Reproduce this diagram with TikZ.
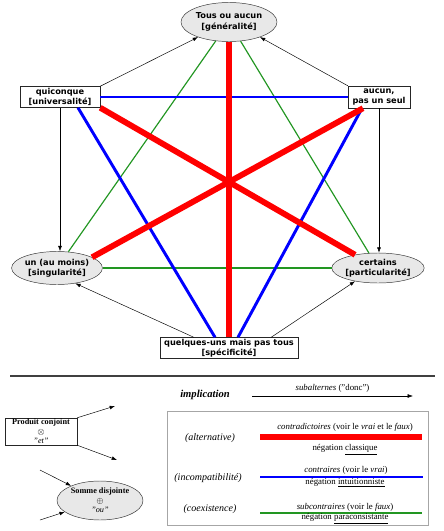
\documentclass[tikz,border=0pt]{standalone}
\usepackage{fontspec}
\setmainfont{Liberation Serif}
\setsansfont{DejaVu Sans}
\usepackage{tikz}
\usetikzlibrary{
	shapes.geometric,
	arrows.meta,
	positioning,
	calc
}
\definecolor{vertsub}{RGB}{34,150,34}
\newlength{\px}
\setlength{\px}{0.85pt}

\begin{document}
\begin{tikzpicture}[
				x=0.85pt, y=-0.85pt,
				carre/.style={
					rectangle, draw=black!85, fill=white, inner sep=0pt,
					align=center, font=\sffamily\bfseries\fontsize{7}{8.8}\selectfont
				},
				ovale/.style={
					ellipse, draw=black!80, fill=gray!18, inner sep=0pt,
					align=center, font=\sffamily\bfseries\fontsize{7}{8.8}\selectfont
				},
				legbox/.style={
					carre, font=\fontsize{7}{8.2}\selectfont
				},
				legoval/.style={
					ovale, font=\fontsize{7}{8.2}\selectfont
				},
				legtext/.style={inner sep=0pt, font=\fontsize{7.5}{9}\selectfont},
				legside/.style={inner sep=0pt, font=\itshape\fontsize{8.5}{10}\selectfont},
				arrow/.style={-{Latex[length=4.5pt,width=3.2pt]}, line width=0.4pt, black},
				contradict/.style={line width=5pt, red},
				contraire/.style={line width=2.5pt, blue},
				subcontr/.style={line width=1pt, vertsub}
				]
				\useasboundingbox (0,0) rectangle (443,531);
				
				% Tous ou aucun
				\node[ovale, minimum width=96\px, minimum height=39\px] (tous) at (229,22) {Tous ou aucun\\{[}généralité{]}};
				
				% quiconque
				\node[carre, minimum width=80\px, minimum height=21\px] (quiconque) at (60,97) {quiconque\\{[}universalité{]}};
				
				% aucun
				\node[carre, minimum width=62\px, minimum height=22\px] (aucun) at (379,97) {aucun,\\pas un seul};
				
				% un (au moins)
				\node[ovale, minimum width=87\px, minimum height=33\px] (unmoins) at (57,268) {un (au moins)\\{[}singularité{]}};
				
				% certains
				\node[ovale, minimum width=83\px, minimum height=30\px] (certains) at (378,268) {certains\\{[}particularité{]}};
				
				% quelques-uns
				\node[carre, minimum width=138\px, minimum height=21\px] (quelques) at (229,348) {quelques-uns mais pas tous\\{[}spécificité{]}};
				
				% subcontraires
				\draw[subcontr] (tous) -- (unmoins);
				\draw[subcontr] (tous) -- (certains);
				\draw[subcontr] (unmoins) -- (certains);
				
				% contraires
				\draw[contraire] (quiconque) -- (aucun);
				\draw[contraire] ($(quiconque.south)+(18,0)$) -- ($(quelques.north)+(-14,0)$);
				\draw[contraire] ($(aucun.south)+(-17,0)$) -- ($(quelques.north)+(9,0)$);
				
				% contradictoires
				\draw[contradict] (tous) -- (quelques);
				\draw[contradict] (quiconque.south east) -- (certains);
				\draw[contradict] ($(aucun.south)+(-16,0)$) -- (unmoins.17);
				
				% subalternes
				\draw[arrow] (quiconque.north east) -- (tous.206);
				\draw[arrow] (aucun.north west) -- (tous.-26);
				\draw[arrow] (quiconque.south) -- (quiconque.south |- unmoins.north);
				\draw[arrow] (aucun.south) -- (aucun.south |- certains.north);
				\draw[arrow] ($(quelques.north west)+(34,0)$) -- (unmoins.-40);
				\draw[arrow] ($(quelques.north east)+(-27,0)$) -- (certains.210);
				
				% separation
				\coordinate (sepA) at (10,376);
				\coordinate (sepB) at (435,376);
				\draw[line width=1.3pt, black!75] (sepA) -- (sepB);
				
				% implication
				\node[inner sep=0pt, font=\bfseries\itshape\fontsize{9}{10}\selectfont] (implic) at (205,395) {implication};
				\coordinate (implA) at (252,396);
				\coordinate (implB) at (413,396);
				\draw[arrow] (implA) -- node[legtext, above=3pt] {\textit{subalternes} ("donc")} (implB);
				
				% produit conjoint
				\node[legbox, minimum width=72\px, minimum height=27\px] (produit) at (41,431.5) {\textbf{Produit conjoint}\\$\otimes$\\\textit{"et"}};
				\coordinate (prodA) at (115,406);
				\coordinate (prodB) at (117,460);
				\draw[arrow] (produit.north east) -- (prodA);
				\draw[arrow] (produit.south east) -- (prodB);
				
				% somme disjointe
				\node[legoval, minimum width=86\px, minimum height=39\px] (somme) at (100,500.5) {\textbf{Somme disjointe}\\$\oplus$\\\textit{"ou"}};
				\coordinate (sommeA) at (40,470);
				\coordinate (sommeB) at (40,520);
				\draw[arrow] (sommeA) -- (somme);
				\draw[arrow] (sommeB) -- (somme);
				
				% legende
				\node[draw=gray!70, line width=0.5pt, minimum width=261\px, minimum height=114\px, inner sep=0pt] (legende) at (297.5,468) {};
				
				% alternative
				\node[legside] (alternat) at (210,438) {(alternative)};
				\coordinate (rougeA) at (260,437);
				\coordinate (rougeB) at (422,437);
				\draw[contradict] (rougeA) -- (rougeB);
				\node[legtext] (contradLbl) at (345,427) {\textit{contradictoires} (voir le \textit{vrai} et le \textit{faux})};
				\node[legtext] (classique) at (345,450) {négation \underline{classique}};
				
				% incompatibilite
				\node[legside] (incompat) at (208,478) {(incompatibilité)};
				\coordinate (bleuA) at (260,477);
				\coordinate (bleuB) at (423,477);
				\draw[contraire] (bleuA) -- (bleuB);
				\node[legtext] (contrLbl) at (346,470.5) {\textit{contraires} (voir le \textit{vrai})};
				\node[legtext] (intuit) at (345,483) {négation \underline{intuitionniste}};
				
				% coexistence
				\node[legside] (coexist) at (210,509) {(coexistence)};
				\coordinate (vertA) at (260,513);
				\coordinate (vertB) at (422,513);
				\draw[subcontr] (vertA) -- (vertB);
				\node[legtext] (subcLbl) at (345,507.5) {\textit{subcontraires} (voir le \textit{faux})};
				\node[legtext] (paracons) at (345,519) {négation \underline{paraconsistante}};
			\end{tikzpicture}
\end{document}
